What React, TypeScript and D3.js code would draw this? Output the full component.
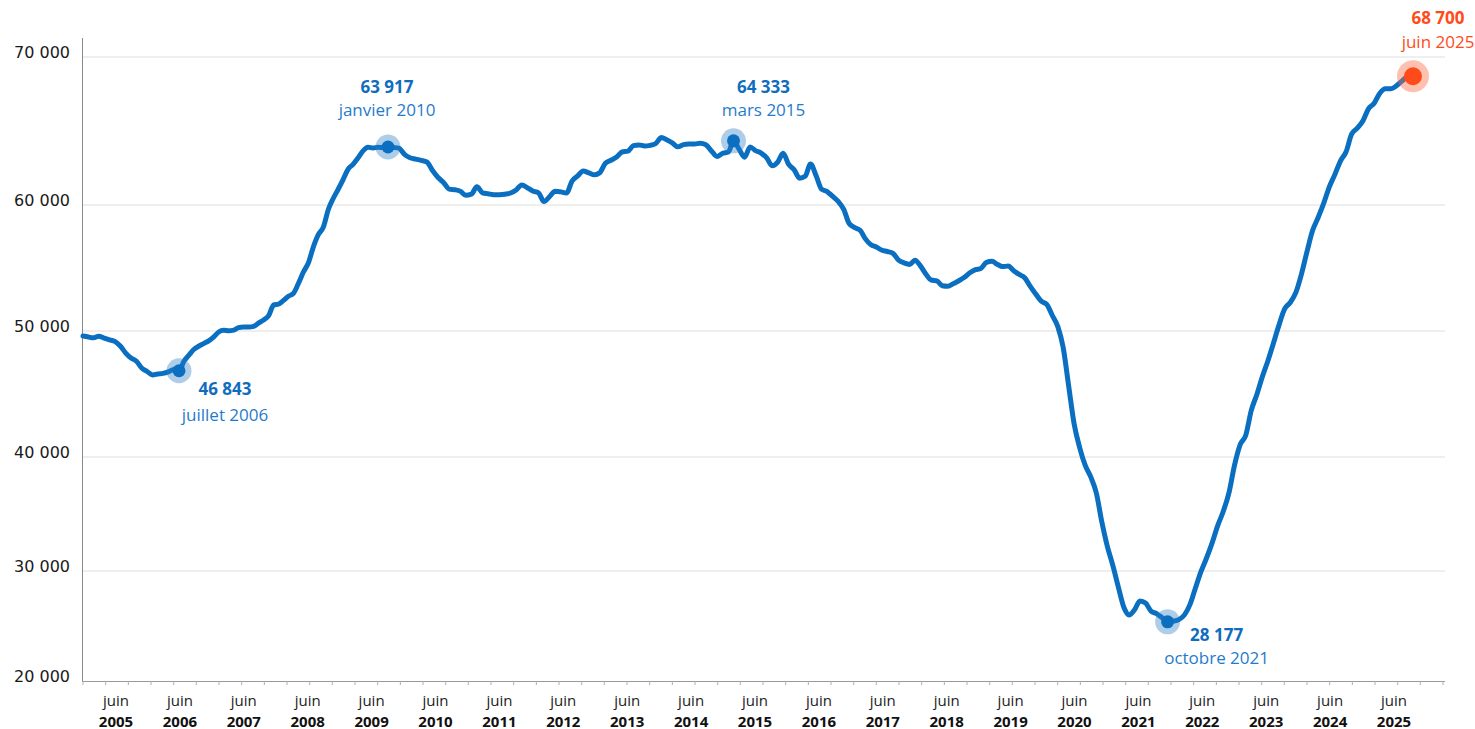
import React, { useEffect, useRef } from 'react';
import * as d3 from 'd3';

// valeurs mensuelles, janvier 2005 -> juin 2025
const valeurs2005a2009 = [
  49600, 49520, 49460, 49590, 49440, 49300, 49175, 48810, 48250, 47860, 47600, 47060,
  46785, 46510, 46590, 46635, 46750, 46935, 46843, 47620, 48100, 48550, 48810, 49020,
  49240, 49560, 49920, 50055, 50024, 50070, 50270, 50320, 50320, 50365, 50640, 50870,
  51215, 52070, 52135, 52430, 52760, 52985, 53770, 54680, 55430, 56680, 57665, 58240,
  59660, 60473, 61047, 61716, 62412, 62750, 63170, 63655, 63900, 63850, 63900, 63880,
];
const valeurs2010a2014 = [
  63917, 63885, 63845, 63420, 63190, 63100, 63010, 62905, 62330, 61860, 61507, 61070,
  61030, 60920, 60660, 60730, 61230, 60825, 60760, 60700, 60700, 60730, 60810, 61015,
  61350, 61155, 60945, 60825, 60230, 60575, 60930, 60885, 60810, 61620, 61965, 62300,
  62170, 62040, 62175, 62825, 63020, 63240, 63580, 63635, 64010, 64060, 63985, 64025,
  64160, 64560, 64405, 64195, 63930, 64080, 64120, 64120, 64170, 64075, 63650, 63280,
];
const valeurs2015a2019 = [
  63495, 63580, 64333, 63775, 63230, 63920, 63675, 63505, 63180, 62650, 62900, 63500,
  62740, 62365, 61810, 61940, 62770, 61975, 61070, 60910, 60580, 60245, 59660, 58530,
  58205, 57975, 57310, 56850, 56665, 56405, 56310, 56160, 55620, 55410, 55285, 55625,
  55150, 54485, 54045, 53985, 53595, 53555, 53755, 53990, 54260, 54620, 54865, 54960,
  55450, 55530, 55300, 55110, 55150, 54790, 54490, 54230, 53540, 52935, 52365, 52110,
];
const valeurs2020a2025 = [
  51230, 50325, 48705, 45610, 42620, 40730, 39280, 38255, 36840, 34340, 32165, 30510,
  29425, 28690, 28420, 28610, 28925, 28850, 28560, 28470, 28320, 28177, 28200, 28255,
  28425, 28810, 29370, 29975, 31120, 32470, 33965, 35245, 36870, 39265, 40975, 41705,
  43715, 45000, 46325, 47620, 49000, 50485, 51740, 52260, 53065, 54500, 56325, 57970,
  59030, 60155, 61210, 62070, 62970, 63600, 64785, 65190, 65695, 66500, 66870, 67540,
  67860, 67860, 68040, 68365, 68670, 68700,
];

const annees = [
  '2005', '2006', '2007', '2008', '2009', '2010', '2011', '2012', '2013', '2014', '2015',
  '2016', '2017', '2018', '2019', '2020', '2021', '2022', '2023', '2024', '2025',
];
const yTicks = [20000, 30000, 40000, 50000, 60000, 70000];

// points mis en avant
const pointsDates = ['2006-07', '2010-01', '2015-03', '2021-10', '2025-06'];
const pointsTextes = ['juillet 2006', 'janvier 2010', 'mars 2015', 'octobre 2021', 'juin 2025'];

const BLUE = '#0b6fc1';
const ORANGE = '#ff4a1a';
const W = 1475;
const H = 729;

const App: React.FC = () => {
  const svgRef = useRef<SVGSVGElement>(null);

  useEffect(() => {
    if (!svgRef.current) return;
    const svg = d3.select(svgRef.current);
    svg.selectAll('*').remove();

    const parse = d3.timeParse('%Y-%m');
    const mois = d3.timeMonth.range(new Date(2005, 0, 1), new Date(2025, 6, 1));
    const valeurs = [...valeurs2005a2009, ...valeurs2010a2014, ...valeurs2015a2019, ...valeurs2020a2025];
    const data: [Date, number][] = mois.map((d, i) => [d, valeurs[i]]);

    const fr = d3.formatLocale({ decimal: ',', thousands: ' ', grouping: [3], currency: ['', ' €'] });
    const fmt = fr.format(',d');

    const left = 83;
    const right = 1445;
    const bottom = 681;

    // the original drawing is not evenly spaced, so both scales are piecewise
    const x = d3.scaleTime()
      .domain([new Date(2005, 0, 1), ...pointsDates.map(d => parse(d) as Date)])
      .range([left, 179, 388, 733.5, 1167.6, 1413]);

    const y = d3.scaleLinear()
      .domain([20000, 28177, 30000, 40000, 50000, 60000, 70000])
      .range([bottom, 621.8, 571, 457, 331, 205, 57]);

    const tickScale = d3.scaleLinear().domain([0, 60]).range([left, 1443]);
    const yearScale = d3.scalePoint<string>().domain(annees).range([116, 1394]);

    // grid
    svg.append('g')
      .selectAll('line')
      .data(yTicks.filter(t => t > 20000))
      .enter()
      .append('line')
      .attr('x1', left)
      .attr('x2', right)
      .attr('y1', d => y(d))
      .attr('y2', d => y(d))
      .attr('stroke', '#dedede')
      .attr('stroke-width', 1);

    // y labels
    svg.append('g')
      .selectAll('text')
      .data(yTicks)
      .enter()
      .append('text')
      .attr('x', 70)
      .attr('y', d => y(d) + 1)
      .attr('text-anchor', 'end')
      .attr('font-family', 'DejaVu Sans, sans-serif')
      .attr('font-size', '16px')
      .attr('fill', '#1a1a1a')
      .text(d => fmt(d));

    // axes
    svg.append('line')
      .attr('x1', 82.5).attr('x2', 82.5)
      .attr('y1', 38).attr('y2', bottom)
      .attr('stroke', '#8a8a8a');
    svg.append('line')
      .attr('x1', 82).attr('x2', right)
      .attr('y1', bottom + 0.5).attr('y2', bottom + 0.5)
      .attr('stroke', '#9a9a9a');

    svg.append('g')
      .selectAll('line')
      .data(d3.range(61))
      .enter()
      .append('line')
      .attr('x1', d => tickScale(d))
      .attr('x2', d => tickScale(d))
      .attr('y1', bottom)
      .attr('y2', bottom + 4)
      .attr('stroke', '#b0b0b0');

    const yearG = svg.append('g')
      .selectAll('g')
      .data(annees)
      .enter()
      .append('g')
      .attr('transform', d => `translate(${yearScale(d)},0)`);
    yearG.append('text')
      .attr('y', 706)
      .attr('text-anchor', 'middle')
      .attr('font-family', 'Open Sans, sans-serif')
      .attr('font-size', '15px')
      .attr('fill', '#222')
      .text('juin');
    yearG.append('text')
      .attr('y', 726.5)
      .attr('text-anchor', 'middle')
      .attr('font-family', 'Open Sans, sans-serif')
      .attr('font-weight', 'bold')
      .attr('font-size', '15px')
      .attr('fill', '#111')
      .text(d => d);

    // line
    const line = d3.line<[Date, number]>()
      .x(d => x(d[0]))
      .y(d => y(d[1]))
      .curve(d3.curveMonotoneX);

    svg.append('path')
      .datum(data)
      .attr('d', line)
      .attr('fill', 'none')
      .attr('stroke', BLUE)
      .attr('stroke-width', 5)
      .attr('stroke-linejoin', 'round')
      .attr('stroke-linecap', 'round');

    // highlighted points
    const offsets = [
      { dx: 46, dy1: 24, dy2: 50 },
      { dx: -1, dy1: -54, dy2: -31 },
      { dx: 30, dy1: -48, dy2: -25 },
      { dx: 49, dy1: 19, dy2: 42 },
      { dx: 25, dy1: -52, dy2: -28 },
    ];

    pointsDates.forEach((ds, i) => {
      const date = parse(ds) as Date;
      const idx = mois.findIndex(m => m.getTime() === date.getTime());
      const v = valeurs[idx];
      const cx = x(date);
      const cy = y(v);
      const last = i === pointsDates.length - 1;
      const col = last ? ORANGE : BLUE;

      svg.append('circle')
        .attr('cx', cx).attr('cy', cy)
        .attr('r', last ? 16 : 12.5)
        .attr('fill', last ? '#ff6a40' : '#2a7cc6')
        .attr('opacity', last ? 0.42 : 0.38);
      svg.append('circle')
        .attr('cx', cx).attr('cy', cy)
        .attr('r', last ? 9 : 6.5)
        .attr('fill', col);

      const o = offsets[i];
      svg.append('text')
        .attr('x', cx + o.dx)
        .attr('y', cy + o.dy1)
        .attr('text-anchor', 'middle')
        .attr('font-family', 'Open Sans, sans-serif')
        .attr('font-weight', 'bold')
        .attr('font-size', '17px')
        .attr('fill', last ? ORANGE : '#106dbd')
        .text(fmt(v));
      svg.append('text')
        .attr('x', cx + o.dx)
        .attr('y', cy + o.dy2)
        .attr('text-anchor', 'middle')
        .attr('font-family', 'Open Sans, sans-serif')
        .attr('font-size', '17px')
        .attr('fill', last ? ORANGE : '#1f7bcc')
        .text(pointsTextes[i]);
    });
  }, []);

  return (
    <svg
      ref={svgRef}
      width={W}
      height={H}
      style={{ position: 'absolute', left: 0, top: 0, background: '#fff' }}
    />
  );
};

export default App;
